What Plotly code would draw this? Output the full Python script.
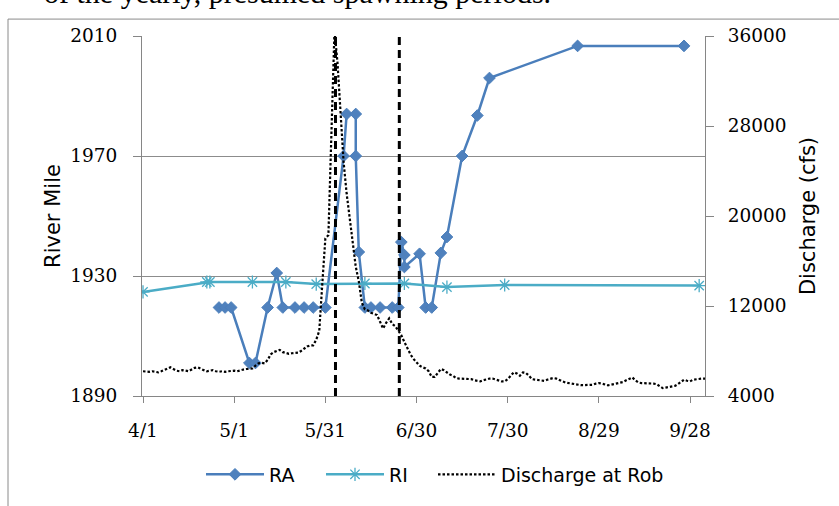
import plotly.graph_objects as go
import pandas as pd

# ---------------- data ----------------
ra_dates = ["2011-04-26", "2011-04-28", "2011-04-30", "2011-05-06", "2011-05-08",
            "2011-05-12", "2011-05-15", "2011-05-17", "2011-05-21", "2011-05-24",
            "2011-05-27", "2011-05-31", "2011-06-06", "2011-06-07", "2011-06-10",
            "2011-06-10", "2011-06-11", "2011-06-13", "2011-06-15", "2011-06-18",
            "2011-06-22", "2011-06-24", "2011-06-25", "2011-06-26", "2011-06-26",
            "2011-07-01", "2011-07-03", "2011-07-05", "2011-07-08", "2011-07-10",
            "2011-07-15", "2011-07-20", "2011-07-24", "2011-08-22", "2011-09-26"]
ra_miles = [1919.5, 1919.5, 1919.5, 1901, 1901,
            1919.5, 1931, 1919.5, 1919.5, 1919.5,
            1919.5, 1919.5, 1970, 1984, 1984,
            1970, 1938, 1919.5, 1919.5, 1919.5,
            1919.5, 1919.5, 1941.3, 1937, 1933,
            1937.4, 1919.5, 1919.5, 1937.7, 1943,
            1970, 1983.5, 1996, 2006.7, 2006.7]

ri_dates = ["2011-04-01", "2011-04-22", "2011-04-23", "2011-05-07", "2011-05-18",
            "2011-05-28", "2011-06-13", "2011-06-26", "2011-07-10", "2011-07-29",
            "2011-10-01"]
ri_miles = [1924.7, 1928, 1928, 1928, 1928,
            1927.3, 1927.5, 1927.5, 1926.3, 1927, 1926.8]

q_start = "2011-04-01"
q_values = [
    6200, 6150, 6150, 6200, 6150, 6100, 6200, 6300, 6450, 6550,
    6400, 6250, 6200, 6300, 6250, 6200, 6350, 6500, 6550, 6400,
    6300, 6200, 6250, 6300, 6200, 6150, 6200, 6150, 6200, 6250,
    6250, 6200, 6300, 6350, 6400, 6450, 6450, 6700, 6900, 6950,
    6900, 7200, 7700, 7900, 8000, 8100, 7900, 7800, 7750, 7800,
    7800, 7850, 8000, 8200, 8400, 8500, 8500, 9000, 9800, 14000,
    18000, 18300, 28000, 36500, 33600, 29000, 24800, 22000, 20000, 17500,
    15500, 14200, 12300, 11700, 11600, 11400, 11300, 11200, 10600, 10000,
    10500, 10900, 10400, 10200, 9800, 9400, 8800, 8200, 7700, 7300,
    7000, 6700, 6550, 6450, 6200, 5700, 5700, 6000, 6400, 6300,
    6100, 5900, 5800, 5600, 5550, 5550, 5550, 5500, 5500, 5400,
    5350, 5300, 5400, 5500, 5550, 5550, 5450, 5400, 5300, 5300,
    5500, 5800, 6100, 6000, 5800, 6100, 6050, 5800, 5500, 5450,
    5400, 5350, 5350, 5450, 5500, 5600, 5550, 5400, 5300, 5200,
    5150, 5100, 5050, 5000, 4970, 4970, 4980, 4970, 5000, 5100,
    5150, 5100, 5000, 4950, 5000, 5050, 5100, 5150, 5250, 5400,
    5500, 5650, 5400, 5200, 5150, 5150, 5100, 5100, 5100, 5050,
    4900, 4700, 4750, 4800, 4850, 4900, 5050, 5250, 5450, 5350,
    5300, 5450, 5500, 5500, 5550, 5550]
q_dates = pd.date_range(q_start, periods=len(q_values), freq="D")

spawn_dates = ["2011-06-03 08:00", "2011-06-24 08:00"]

x_tick_labels = ["4/1", "5/1", "5/31", "6/30", "7/30", "8/29", "9/28"]
x_tick_vals = pd.date_range("2011-04-01", periods=len(x_tick_labels), freq="30D")
left_ticks = [1890, 1930, 1970, 2010]
right_ticks = [4000, 12000, 20000, 28000, 36000]

# ---------------- figure ----------------
fig = go.Figure()

fig.add_trace(go.Scatter(
    x=ra_dates, y=ra_miles, name="RA", mode="lines+markers",
    line=dict(color="#4A7EBB", width=2.5),
    marker=dict(symbol="diamond", size=9, color="#4F81BD",
                line=dict(color="#4A7EBB", width=1)),
    yaxis="y", legend="legend"))

fig.add_trace(go.Scatter(
    x=ri_dates, y=ri_miles, name="RI", mode="lines+markers",
    line=dict(color="#4BACC6", width=2.5),
    marker=dict(symbol="asterisk-open", size=11, color="#4BACC6",
                line=dict(color="#4BACC6", width=1.3)),
    yaxis="y", legend="legend2"))

fig.add_trace(go.Scatter(
    x=q_dates, y=q_values, name="Discharge at Rob", mode="lines",
    line=dict(color="#000000", width=2.2, dash="2.5px,2px"),
    yaxis="y2", legend="legend3"))

for d in spawn_dates:
    fig.add_shape(type="line", xref="x", yref="paper", x0=d, x1=d, y0=0, y1=1,
                  line=dict(color="black", width=3, dash="8px,5px"), layer="above")

# outer chart frame (extends beyond page)
fig.add_shape(type="rect", xref="paper", yref="paper",
              x0=-0.238, x1=1.5, y0=-0.6, y1=1.047,
              line=dict(color="#8a8a8a", width=1), layer="below")

# cut-off document text at the top
fig.add_annotation(text="of the yearly, presumed spawning periods.",
                   xref="paper", yref="paper", x=-0.178, y=1.121,
                   xanchor="left", yanchor="middle", showarrow=False,
                   font=dict(family="Liberation Serif", size=30, color="black"))

axis_col = "#868686"
tick_font = dict(family="DejaVu Serif", size=18.5, color="black")
title_font = dict(family="DejaVu Sans", size=21, color="black")
leg_common = dict(orientation="h", xanchor="left", y=-0.218, yanchor="middle",
                  font=dict(family="DejaVu Sans", size=19, color="black"),
                  itemwidth=58, bgcolor="rgba(0,0,0,0)")


def px_to_paper(px):
    return (px - 142) / 563.0


fig.update_layout(
    width=839, height=506,
    margin=dict(l=142, r=134, t=36, b=108),
    paper_bgcolor="white", plot_bgcolor="white",
    showlegend=True,
    legend=dict(x=px_to_paper(201), **leg_common),
    legend2=dict(x=px_to_paper(321), **leg_common),
    legend3=dict(x=px_to_paper(433), **leg_common),
    xaxis=dict(type="date", range=["2011-03-31 16:00", "2011-10-02 22:00"],
               tickvals=x_tick_vals, ticktext=x_tick_labels,
               showgrid=False, zeroline=False,
               showline=True, linecolor=axis_col, linewidth=1,
               ticks="outside", ticklen=6, tickcolor=axis_col,
               tickfont=tick_font, ticklabelstandoff=12, automargin=False),
    yaxis=dict(range=[1890, 2010], tickvals=left_ticks,
               showgrid=True, gridcolor="#8c8c8c", gridwidth=1, zeroline=False,
               showline=True, linecolor=axis_col, linewidth=1,
               ticks="outside", ticklen=8, tickcolor=axis_col,
               tickfont=tick_font, ticklabelstandoff=12,
               title=dict(text="River Mile", font=title_font, standoff=3),
               automargin=False),
    yaxis2=dict(range=[4000, 36000], tickvals=right_ticks, tickformat="d",
                overlaying="y", side="right",
                showgrid=False, zeroline=False,
                showline=True, linecolor=axis_col, linewidth=1,
                ticks="outside", ticklen=8, tickcolor=axis_col,
                tickfont=tick_font, ticklabelstandoff=10,
                title=dict(text="Discharge (cfs)", font=title_font, standoff=14),
                automargin=False),
)

fig.write_html("out.html")
